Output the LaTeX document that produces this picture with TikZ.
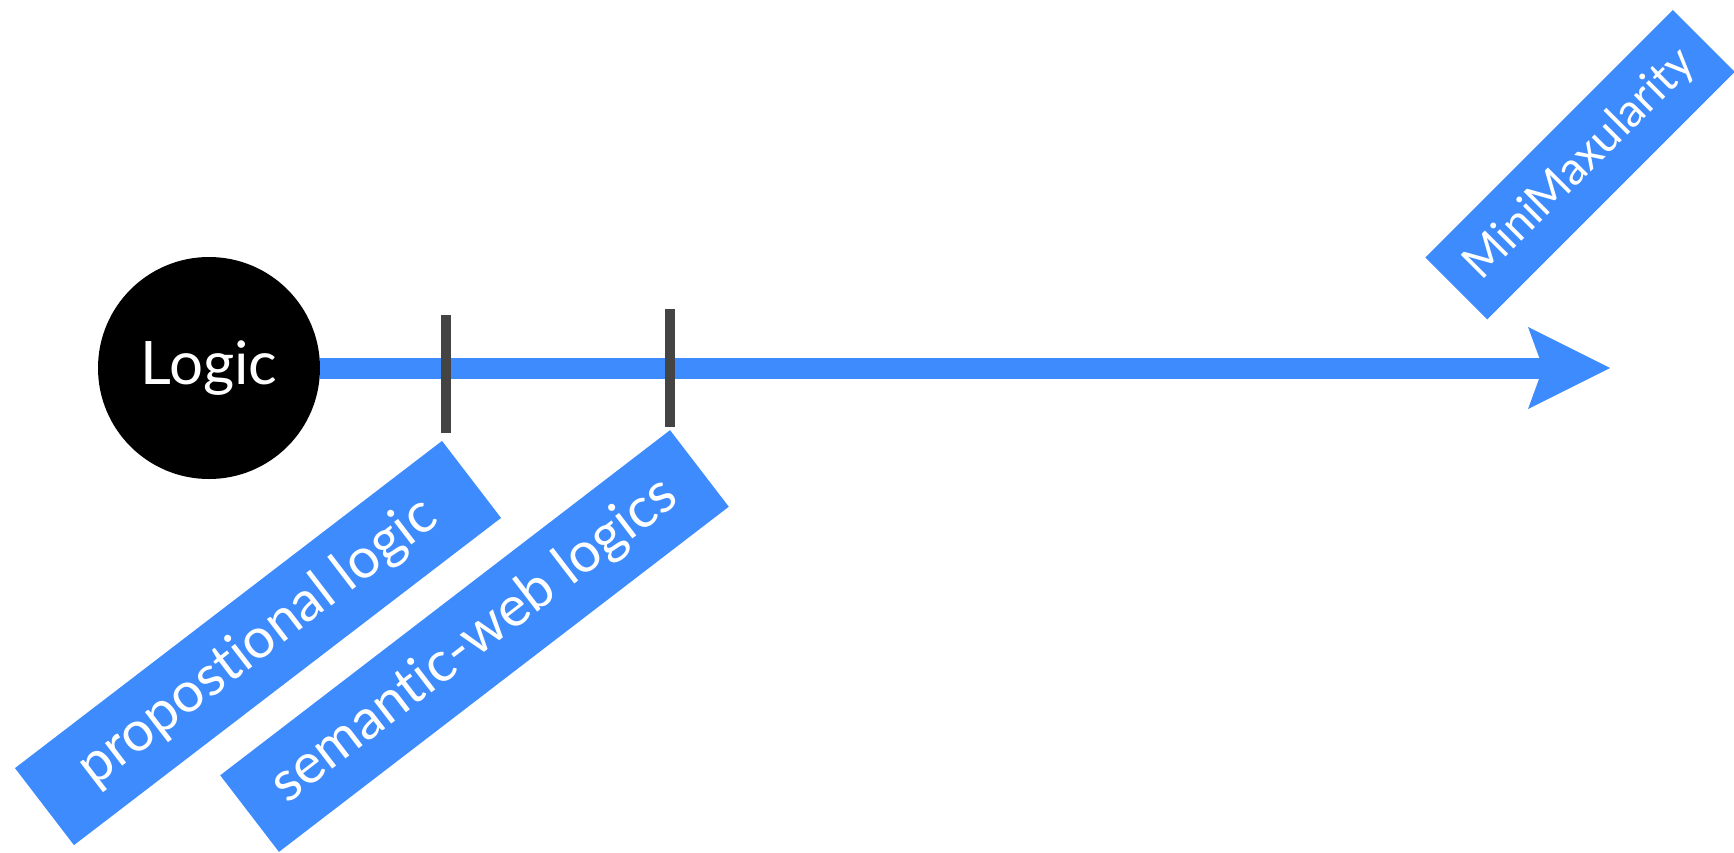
\documentclass[tikz,border=0pt]{standalone}
\usepackage{fontspec}
\setmainfont{Lato}[Ligatures={NoCommon,NoRare}]
\usetikzlibrary{arrows.meta}
\definecolor{bblue}{RGB}{61,139,253}
\definecolor{tickgray}{RGB}{68,68,68}
\tikzset{
  label box/.style={fill=bblue, text=white, inner sep=0pt, font=\fontsize{56}{60}\selectfont},
  tickmark/.style={fill=tickgray, inner sep=0pt, minimum width=10pt, minimum height=118pt},
  timeline/.style={draw=bblue, line width=21pt, -{Stealth[length=82pt,width=82pt,inset=15pt,line width=0pt]}},
}
\begin{document}
\begin{tikzpicture}[x=1pt,y=-1pt]
\useasboundingbox (0,0) rectangle (1734,852);
\node[circle, fill=black, text=white, minimum size=222pt, inner sep=0pt,
      font=\fontsize{60}{64}\selectfont] (logic) at (209,368) {Logic};
\coordinate (tip) at (1610,368);
\draw[timeline] (logic.east) -- (tip);
\node[tickmark] (t1) at (446,374) {};
\node[tickmark] (t2) at (670,367.5) {};
\node[label box, rotate=37.46, minimum width=538pt, minimum height=97pt] (prop) at (258,643) {propostional logic};
\node[label box, rotate=37.5, minimum width=567pt, minimum height=96.5pt] (sem) at (474.5,641) {semantic-web logics};
\node[label box, rotate=45, minimum width=350pt, minimum height=87.5pt, font=\fontsize{46}{50}\selectfont] (mini) at (1580,164.7) {MiniMaxularity};
\end{tikzpicture}
\end{document}
